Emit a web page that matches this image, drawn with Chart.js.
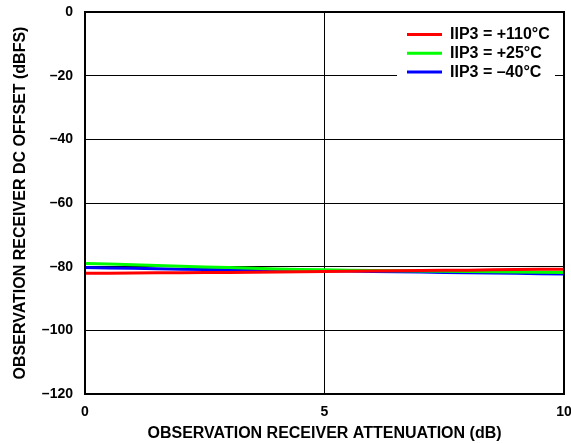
<!DOCTYPE html>
<html>
<head>
<meta charset="utf-8">
<script src="https://cdn.jsdelivr.net/npm/chart.js@4.4.1/dist/chart.umd.min.js"></script>
<style>
  html, body { margin: 0; padding: 0; background: #fff; }
  #wrap { width: 571px; height: 444px; }
</style>
</head>
<body>
<div id="wrap"><canvas id="chart"></canvas></div>
<script>
// ── DATA ──────────────────────────────────────────────────────────
const attenuation = [0, 1, 2, 3, 4, 5, 6, 7, 8, 9, 10];
const offset110   = [-82.1, -82.0, -81.9, -81.8, -81.7, -81.5, -81.4, -81.2, -81.1, -80.9, -80.8];
const offset25    = [-79.0, -79.4, -79.9, -80.3, -80.7, -81.0, -81.2, -81.4, -81.5, -81.7, -81.8];
const offsetM40   = [-80.3, -80.5, -80.8, -81.0, -81.2, -81.3, -81.5, -81.7, -81.9, -82.1, -82.3];

const xTicks = [0, 5, 10];

const seriesNames  = ["IIP3 = +110°C", "IIP3 = +25°C", "IIP3 = –40°C"];
const seriesColors = ["#ff0000", "#00ff00", "#0000ff"];

const FONT = "'Liberation Sans', Arial, sans-serif";

const toPoints = ys => attenuation.map((x, i) => ({ x, y: ys[i] }));

// ── PLUGINS ───────────────────────────────────────────────────────
// Legend sits inside the plot on a white box that hides the gridline
const insideLegend = {
  id: "insideLegend",
  afterDatasetsDraw(chart) {
    const ctx = chart.ctx;
    ctx.save();
    ctx.fillStyle = "#fff";
    ctx.fillRect(397, 24, 158, 57);
    ctx.font = "bold 16px " + FONT;
    ctx.textBaseline = "middle";
    seriesNames.forEach((name, i) => {
      const y = 34.5 + i * 18.7;
      ctx.strokeStyle = seriesColors[i];
      ctx.lineWidth = 3;
      ctx.beginPath();
      ctx.moveTo(407, y);
      ctx.lineTo(442, y);
      ctx.stroke();
      ctx.fillStyle = "#000";
      ctx.fillText(name, 450, y + 0.5);
    });
    ctx.restore();
  }
};

// Closed frame round the plot area
const frame = {
  id: "frame",
  afterDraw(chart) {
    const a = chart.chartArea;
    const ctx = chart.ctx;
    ctx.save();
    ctx.strokeStyle = "#000";
    ctx.lineWidth = 2;
    ctx.strokeRect(a.left, a.top, a.right - a.left, a.bottom - a.top);
    ctx.restore();
  }
};

// ── CHART ─────────────────────────────────────────────────────────
new Chart(document.getElementById("chart"), {
  type: "line",
  data: {
    datasets: [offset110, offset25, offsetM40].map((ys, i) => ({
      label: seriesNames[i],
      data: toPoints(ys),
      borderColor: seriesColors[i],
      borderWidth: 3,
      pointRadius: 0,
      tension: 0.3,
      fill: false,
    }))
  },
  options: {
    responsive: true,
    maintainAspectRatio: false,
    animation: false,
    layout: { padding: { left: 0, right: 7, top: 12, bottom: 0 } },
    plugins: {
      legend:  { display: false },
      tooltip: { enabled: false }
    },
    scales: {
      x: {
        type: "linear",
        min: 0, max: 10,
        // fixed height, and let the "10" run off the right edge
        afterFit: s => { s.height = 50; s.paddingLeft = 0; s.paddingRight = 0; },
        afterBuildTicks: s => { s.ticks = xTicks.map(v => ({ value: v })); },
        ticks: {
          color: "#000",
          font: { family: FONT, size: 14, weight: "bold" },
          padding: 9.5,
          maxRotation: 0,
        },
        grid:   { color: "#000", lineWidth: 1, drawTicks: false },
        border: { display: false },
        title: {
          display: true,
          text: "OBSERVATION RECEIVER ATTENUATION (dB)",
          color: "#000",
          font: { family: FONT, size: 16, weight: "bold" },
          padding: { top: 0, bottom: 1 }
        }
      },
      y: {
        min: -120, max: 0,
        afterFit: s => { s.width = 85; s.paddingTop = 0; s.paddingBottom = 0; },
        ticks: {
          stepSize: 20,
          color: "#000",
          font: { family: FONT, size: 14, weight: "bold" },
          padding: 12,
          callback: v => v < 0 ? "–" + Math.abs(v) : String(v)
        },
        grid:   { color: "#000", lineWidth: 1, drawTicks: false },
        border: { display: false },
        title: {
          display: true,
          text: "OBSERVATION RECEIVER DC OFFSET (dBFS)",
          color: "#000",
          font: { family: FONT, size: 16, weight: "bold" },
          padding: { top: 11, bottom: 0 }
        }
      }
    }
  },
  plugins: [insideLegend, frame]
});
</script>
</body>
</html>
